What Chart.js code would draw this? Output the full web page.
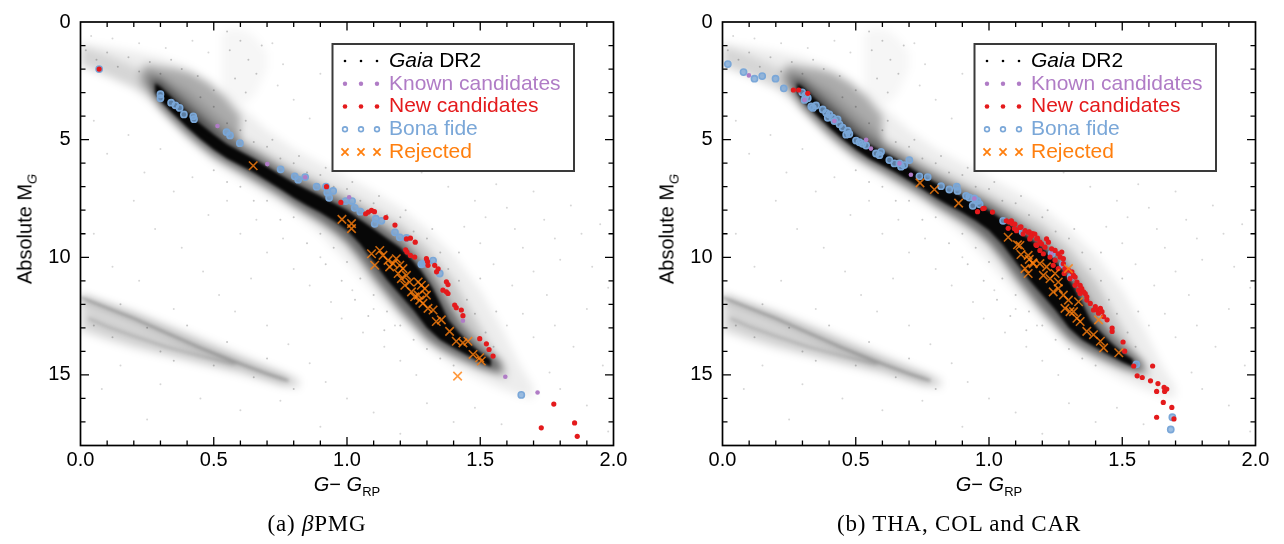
<!DOCTYPE html>
<html>
<head>
<meta charset="utf-8">
<script src="https://cdn.jsdelivr.net/npm/chart.js@4.4.1/dist/chart.umd.min.js"></script>
<style>
  html, body { margin: 0; padding: 0; background: #fff; }
  body { width: 1284px; height: 544px; position: relative; overflow: hidden; font-family: "Liberation Sans", Arial, sans-serif; color: #000; }
  .panel { position: absolute; top: 0; width: 642px; height: 544px; }
  .panel canvas { position: absolute; left: 0; top: 0; width: 642px; height: 544px; }
  .halo { filter: blur(4px); clip-path: inset(12px 28.5px 98.5px 80.5px); }
  .core { filter: blur(1.5px); clip-path: inset(12px 28.5px 98.5px 80.5px); }
  .ytitle { position: absolute; left: 25px; top: 229px; transform: translate(-50%, -50%) rotate(-90deg); font-size: 20px; white-space: nowrap; }
  .xtitle { position: absolute; left: 347px; top: 484px; transform: translate(-50%, -50%); font-size: 20px; white-space: nowrap; }
  .caption { position: absolute; left: 317px; top: 524px; transform: translate(-50%, -50%); font-family: "Liberation Serif", "DejaVu Serif", serif; font-size: 23px; letter-spacing: 0.8px; white-space: nowrap; }
  sub { font-size: 13px; vertical-align: -5px; line-height: 0; }
</style>
</head>
<body>
<div class="panel" style="left:0px">
  <canvas id="haloA" class="halo" width="642" height="544"></canvas>
  <canvas id="coreA" class="core" width="642" height="544"></canvas>
  <canvas id="mainA" width="642" height="544"></canvas>
  <div class="ytitle">Absolute M<sub><i>G</i></sub></div>
  <div class="xtitle"><i>G</i>− <i>G</i><sub>RP</sub></div>
  <div class="caption">(a) <i>β</i>PMG</div>
</div>
<div class="panel" style="left:642px">
  <canvas id="haloB" class="halo" width="642" height="544"></canvas>
  <canvas id="coreB" class="core" width="642" height="544"></canvas>
  <canvas id="mainB" width="642" height="544"></canvas>
  <div class="ytitle">Absolute M<sub><i>G</i></sub></div>
  <div class="xtitle"><i>G</i>− <i>G</i><sub>RP</sub></div>
  <div class="caption">(b) THA, COL and CAR</div>
</div>
<script>
// axis ticks
var xTicks = [0, 0.5, 1.0, 1.5, 2.0];
var yTicks = [0, 5, 10, 15];

var seriesNames = ['Gaia DR2', 'Known candidates', 'New candidates', 'Bona fide', 'Rejected'];

// Gaia DR2 field: density outlines as [G-G_RP, M_G]
var msCoreTop = [[0.28,2.6],[0.30,2.75],[0.35,3.28],[0.40,3.83],[0.45,4.33],[0.50,4.78],[0.55,5.2],[0.60,5.5],[0.65,5.8],[0.70,6.15],[0.75,6.5],[0.80,6.83],[0.85,7.12],[0.90,7.4],[0.95,7.7],[1.00,8.0],[1.05,8.4],[1.10,8.8],[1.15,9.2],[1.20,9.6],[1.24,10.05],[1.28,10.6],[1.32,11.3],[1.35,11.95],[1.38,12.65],[1.42,13.2],[1.46,13.65],[1.50,14.05],[1.54,14.35]];
var msCoreBottom = [[0.28,3.0],[0.30,3.35],[0.35,3.92],[0.40,4.47],[0.45,4.97],[0.50,5.42],[0.55,5.8],[0.60,6.1],[0.65,6.4],[0.70,6.75],[0.75,7.1],[0.80,7.47],[0.85,7.8],[0.90,8.1],[0.95,8.45],[1.00,8.85],[1.05,9.45],[1.10,10.2],[1.15,10.95],[1.20,11.6],[1.25,12.25],[1.30,13.0],[1.35,13.5],[1.40,13.85],[1.45,14.15],[1.50,14.45],[1.54,14.65]];
var msMidTop = [[0.27,2.4],[0.30,2.5],[0.35,3.0],[0.40,3.5],[0.45,4.0],[0.50,4.5],[0.55,4.95],[0.60,5.25],[0.65,5.55],[0.70,5.9],[0.75,6.25],[0.80,6.55],[0.85,6.85],[0.90,7.12],[0.95,7.4],[1.00,7.7],[1.05,8.05],[1.10,8.45],[1.15,8.85],[1.20,9.25],[1.25,9.8],[1.30,10.5],[1.34,11.2],[1.38,12.0],[1.42,12.75],[1.46,13.3],[1.50,13.75],[1.55,14.2],[1.58,14.5]];
var msMidBottom = [[0.27,3.0],[0.30,3.6],[0.35,4.2],[0.40,4.75],[0.45,5.25],[0.50,5.7],[0.55,6.05],[0.60,6.35],[0.65,6.7],[0.70,7.05],[0.75,7.4],[0.80,7.8],[0.85,8.15],[0.90,8.5],[0.95,8.9],[1.00,9.4],[1.05,10.1],[1.10,10.9],[1.15,11.6],[1.20,12.3],[1.25,12.9],[1.30,13.5],[1.35,13.9],[1.40,14.2],[1.45,14.45],[1.50,14.7],[1.55,14.85],[1.58,14.9]];
var msNearTop = [[0.22,1.9],[0.30,2.3],[0.40,2.9],[0.50,3.9],[0.60,4.9],[0.70,5.55],[0.80,6.2],[0.90,6.75],[1.00,7.3],[1.10,7.95],[1.20,8.6],[1.30,9.6],[1.40,11.0],[1.48,12.6],[1.55,14.0],[1.60,14.8]];
var msNearBottom = [[0.22,2.6],[0.30,3.7],[0.40,4.8],[0.50,5.7],[0.60,6.35],[0.70,7.0],[0.80,7.7],[0.90,8.4],[1.00,9.3],[1.10,10.6],[1.20,12.0],[1.30,13.3],[1.40,14.05],[1.48,14.6],[1.55,14.95],[1.60,15.2]];
var msWideTop = [[0.00,0.9],[0.10,1.05],[0.20,1.25],[0.30,1.5],[0.40,1.9],[0.50,2.6],[0.60,3.6],[0.70,4.6],[0.80,5.4],[0.90,6.0],[1.00,6.6],[1.10,7.2],[1.20,7.9],[1.30,8.8],[1.40,9.9],[1.50,11.4],[1.58,13.0],[1.65,14.6],[1.70,15.5]];
var msWideBottom = [[0.00,1.9],[0.10,2.3],[0.20,2.8],[0.30,3.8],[0.40,5.0],[0.50,6.0],[0.60,6.7],[0.70,7.4],[0.80,8.1],[0.90,9.0],[1.00,10.2],[1.10,11.5],[1.20,12.7],[1.30,13.8],[1.40,14.6],[1.50,15.2],[1.58,15.6],[1.65,15.9],[1.70,16.0]];
var upperMsTop = [[0.00,1.0],[0.10,1.4],[0.20,1.9],[0.30,2.5]];
var upperMsBottom = [[0.00,1.8],[0.10,2.3],[0.20,2.8],[0.30,3.4]];
var turnoffTop = [[0.24,1.8],[0.30,1.9],[0.36,2.0],[0.42,2.2],[0.48,2.6],[0.54,3.2],[0.60,4.0]];
var turnoffBottom = [[0.24,2.6],[0.30,3.2],[0.36,3.8],[0.42,4.3],[0.48,4.7],[0.54,5.0],[0.60,5.4]];
var giantsTop = [[0.53,0.5],[0.57,0.25],[0.62,0.35],[0.66,0.7],[0.70,1.3]];
var giantsBottom = [[0.53,3.2],[0.57,3.4],[0.62,3.5],[0.66,3.0],[0.70,2.0]];
var wdTop = [[0.00,11.6],[0.20,12.3],[0.40,13.2],[0.60,14.15],[0.75,14.85],[0.82,15.2]];
var wdBottom = [[0.00,13.1],[0.10,13.5],[0.20,13.85],[0.40,14.4],[0.60,14.95],[0.75,15.45],[0.82,15.55]];
var wdUpper = [[0.00,11.7],[0.10,12.15],[0.20,12.6],[0.32,13.2],[0.45,13.85],[0.57,14.4],[0.70,14.95],[0.78,15.25]];
var wdLower = [[0.03,12.6],[0.10,12.95],[0.20,13.35],[0.32,13.8],[0.45,14.2],[0.58,14.55]];
var gaiaField = [[0.04,0.6],[0.12,0.7],[0.22,0.9],[0.32,1.1],[0.42,0.8],[0.48,1.3],[0.72,0.9],[0.76,1.8],[0.74,2.7],[0.80,3.3],[0.86,4.1],[0.90,2.2],[0.95,3.0],[1.00,4.6],[1.05,3.6],[1.08,5.2],[1.15,4.4],[1.18,5.8],[1.25,5.0],[1.28,6.4],[1.35,5.7],[1.38,7.0],[1.45,6.2],[1.48,7.6],[1.52,8.3],[1.56,6.9],[1.60,7.9],[1.63,8.8],[1.66,9.6],[1.70,7.2],[1.74,8.4],[1.78,9.2],[1.80,10.1],[1.84,7.8],[1.88,9.0],[1.92,10.4],[1.95,8.6],[1.98,11.3],[1.70,10.6],[1.75,11.6],[1.62,11.2],[1.55,10.3],[1.50,9.4],[1.44,8.7],[1.66,12.4],[1.78,12.9],[1.90,12.2],[1.85,13.8],[1.70,13.4],[1.60,12.9],[1.96,14.6],[1.76,14.9],[0.05,4.2],[0.10,5.6],[0.18,4.8],[0.24,6.4],[0.30,5.4],[0.35,7.2],[0.42,6.6],[0.48,8.2],[0.55,7.6],[0.60,9.0],[0.66,8.4],[0.70,9.8],[0.76,9.2],[0.80,10.5],[0.86,11.2],[0.90,10.0],[0.94,11.9],[0.98,12.6],[1.02,11.4],[1.06,13.2],[1.10,12.2],[1.14,13.8],[1.18,12.9],[1.20,14.4],[1.26,15.0],[0.20,7.6],[0.28,8.8],[0.38,9.6],[0.46,10.6],[0.52,11.6],[0.58,12.3],[0.64,10.9],[0.70,12.9],[0.78,13.7],[0.86,14.5],[0.92,15.3],[1.00,16.0],[1.10,16.6],[1.30,16.2],[1.40,17.0],[0.05,9.0],[0.12,10.4],[0.15,14.6],[0.30,15.4],[0.45,16.0],[0.60,16.5],[0.75,16.1],[0.90,17.2],[0.25,16.9],[1.20,17.5],[0.35,12.2],[0.22,11.0],[0.08,15.6],[1.48,16.4],[1.58,17.1],[1.90,16.3],[1.80,15.6],[1.98,17.4]];
var gaiaNear = [[0.45,3.2],[0.50,3.6],[0.55,4.3],[0.60,4.6],[0.65,5.1],[0.70,5.3],[0.75,5.8],[0.80,6.0],[0.85,6.4],[0.90,6.5],[0.95,7.0],[1.00,7.1],[1.05,7.6],[1.10,7.7],[1.15,8.2],[1.20,8.3],[1.25,8.9],[1.30,9.2],[1.35,9.8],[1.38,10.5],[1.42,11.0],[1.45,11.8],[1.48,12.4],[1.52,13.2],[1.55,13.8],[0.62,4.2],[0.72,5.0],[0.82,5.7],[0.92,6.2],[1.02,6.8],[1.12,7.4],[1.22,8.0],[1.32,8.8],[1.42,9.8],[1.50,10.9],[1.56,12.3],[0.50,6.3],[0.60,7.0],[0.70,7.6],[0.80,8.3],[0.90,9.0],[0.95,9.6],[1.00,10.2],[1.05,10.9],[1.10,11.6],[1.15,12.3],[1.20,12.9],[1.25,13.5],[1.30,13.9],[1.35,14.3],[1.40,14.6],[0.85,9.4],[0.92,10.3],[0.98,11.0],[1.03,11.8],[1.08,12.5],[1.14,13.1],[0.75,8.4],[0.65,7.6],[0.55,6.8],[0.02,1.2],[0.06,1.6],[0.10,1.3],[0.14,1.9],[0.18,1.5],[0.22,2.1],[0.26,1.7],[0.30,2.2],[0.34,1.6],[0.38,2.0],[0.44,2.3],[0.50,2.9],[0.56,1.2],[0.60,0.8],[0.63,1.6],[0.58,2.4],[0.66,2.2],[0.62,3.0],[0.68,1.0],[0.55,0.4],[0.05,12.9],[0.12,13.4],[0.25,13.0],[0.30,14.0],[0.40,12.9],[0.50,14.6],[0.55,13.6],[0.65,15.1],[0.70,14.3],[0.80,15.6],[0.15,12.0],[0.35,14.4]];

// (a) beta Pic moving group
var aKnown = [[0.514,4.42],[0.701,6.04],[0.843,6.6],[1.008,7.45],[1.435,12.7],[1.594,15.08],[1.715,15.75]];
var aNew = [[0.07,2.0],[0.923,7.0],[0.977,7.67],[1.07,8.15],[1.08,8.08],[1.092,8.01],[1.103,8.06],[1.146,8.31],[1.18,8.63],[1.223,9.22],[1.238,9.19],[1.256,9.36],[1.22,9.68],[1.225,9.78],[1.238,9.92],[1.254,9.99],[1.298,10.06],[1.302,10.18],[1.304,10.34],[1.329,10.34],[1.342,10.49],[1.336,10.62],[1.373,11.04],[1.379,11.16],[1.373,11.47],[1.379,11.54],[1.36,11.4],[1.404,12.03],[1.41,12.14],[1.429,12.24],[1.435,12.48],[1.498,13.46],[1.523,13.68],[1.533,13.92],[1.548,14.2],[1.776,16.24],[1.729,17.25],[1.854,17.04],[1.864,17.61]];
var aBona = [[0.07,2.0],[0.30,3.07],[0.30,3.24],[0.34,3.43],[0.356,3.54],[0.372,3.65],[0.388,3.93],[0.423,4.01],[0.426,4.13],[0.548,4.68],[0.561,4.82],[0.598,5.15],[0.751,6.26],[0.804,6.56],[0.817,6.7],[0.843,6.59],[0.886,7.0],[0.921,7.0],[0.926,7.25],[0.948,7.18],[0.933,7.47],[0.995,7.61],[1.019,7.61],[1.029,7.9],[1.05,8.06],[1.108,8.36],[1.104,8.58],[1.129,8.45],[1.18,8.94],[1.198,9.15],[1.223,9.18],[1.286,10.27],[1.279,10.3],[1.323,10.14],[1.348,10.69],[1.654,15.85]];
var aRejected = [[0.648,6.11],[0.981,8.39],[1.017,8.57],[1.017,8.78],[1.092,9.85],[1.123,9.71],[1.135,9.92],[1.104,10.34],[1.154,10.13],[1.16,10.41],[1.173,10.27],[1.185,10.06],[1.198,10.34],[1.21,10.48],[1.192,10.69],[1.204,10.91],[1.223,10.77],[1.235,11.05],[1.217,11.19],[1.242,11.47],[1.254,11.68],[1.267,11.61],[1.273,11.82],[1.285,11.96],[1.298,11.61],[1.279,11.19],[1.267,11.05],[1.292,11.33],[1.304,12.17],[1.323,12.24],[1.335,12.73],[1.354,12.66],[1.385,13.15],[1.41,13.57],[1.435,13.64],[1.454,13.57],[1.473,14.13],[1.498,14.27],[1.504,14.41],[1.415,15.05]];

// (b) TW Hya, Columba and Carina
var bKnown = [[0.099,2.27],[0.308,3.31],[0.42,4.21],[0.539,5.01],[0.557,5.38],[0.664,6.01],[0.707,6.49],[0.945,7.5],[1.235,9.85],[1.277,10.31],[1.307,10.84]];
var bNew = [[0.266,2.89],[0.286,2.89],[0.32,3.03],[0.957,8.06],[0.977,7.93],[0.982,7.92],[1.013,8.08],[1.065,8.45],[1.076,8.5],[1.084,8.45],[1.088,8.57],[1.095,8.78],[1.097,8.59],[1.072,8.77],[1.103,8.87],[1.116,8.73],[1.12,8.71],[1.128,9.01],[1.135,8.87],[1.147,8.94],[1.151,8.92],[1.153,9.22],[1.157,9.12],[1.16,9.08],[1.164,8.99],[1.172,9.01],[1.176,9.47],[1.179,9.22],[1.179,9.5],[1.182,9.19],[1.191,9.36],[1.191,9.71],[1.197,9.43],[1.204,9.85],[1.21,9.57],[1.216,9.22],[1.223,9.36],[1.229,9.99],[1.235,9.64],[1.241,10.34],[1.248,9.71],[1.248,10.13],[1.26,9.85],[1.26,10.48],[1.267,9.99],[1.273,9.78],[1.279,10.06],[1.279,10.27],[1.282,10.69],[1.285,10.48],[1.298,10.55],[1.304,10.91],[1.311,10.62],[1.317,10.77],[1.323,10.84],[1.323,11.19],[1.33,11.05],[1.336,11.4],[1.342,11.19],[1.342,11.54],[1.348,11.33],[1.355,11.47],[1.361,11.54],[1.367,11.68],[1.367,11.82],[1.38,11.96],[1.392,12.24],[1.399,12.1],[1.405,12.24],[1.411,12.38],[1.418,12.17],[1.424,12.31],[1.43,12.52],[1.443,12.66],[1.462,13.01],[1.462,13.15],[1.503,13.6],[1.509,13.99],[1.543,14.62],[1.556,15.04],[1.575,15.11],[1.606,15.25],[1.614,14.62],[1.629,15.7],[1.634,15.37],[1.657,15.53],[1.659,15.7],[1.667,15.6],[1.654,16.17],[1.686,16.38],[1.629,16.8],[1.694,16.87]];
var bBona = [[0.02,1.79],[0.079,2.13],[0.12,2.41],[0.149,2.3],[0.199,2.41],[0.23,2.82],[0.299,2.99],[0.311,3.13],[0.32,3.24],[0.308,3.31],[0.333,3.59],[0.351,3.55],[0.339,3.65],[0.376,3.72],[0.389,3.86],[0.401,3.93],[0.413,4.07],[0.395,4.07],[0.42,4.21],[0.432,4.14],[0.439,4.35],[0.451,4.49],[0.47,4.62],[0.476,4.76],[0.464,4.79],[0.501,5.04],[0.514,5.11],[0.526,5.18],[0.539,5.25],[0.576,5.59],[0.595,5.52],[0.589,5.66],[0.626,5.87],[0.645,6.01],[0.664,6.01],[0.682,6.08],[0.701,5.87],[0.67,6.15],[0.739,6.56],[0.77,6.59],[0.82,6.98],[0.851,7.12],[0.879,7.0],[0.882,7.18],[0.914,7.39],[0.926,7.46],[0.945,7.5],[0.957,7.6],[0.939,7.81],[0.965,7.75],[1.053,8.45],[1.126,8.91],[1.235,9.85],[1.277,10.31],[1.307,10.84],[1.553,14.55],[1.688,16.8],[1.682,17.32]];
var bRejected = [[0.741,6.84],[0.795,7.12],[0.886,7.7],[1.072,9.15],[1.107,9.47],[1.116,9.5],[1.12,9.88],[1.147,9.92],[1.164,10.23],[1.151,10.09],[1.166,10.27],[1.135,10.48],[1.147,10.69],[1.191,10.27],[1.216,10.41],[1.204,10.77],[1.229,10.91],[1.248,10.69],[1.26,11.05],[1.241,11.47],[1.26,11.33],[1.279,11.61],[1.298,11.82],[1.285,12.17],[1.304,12.31],[1.317,12.31],[1.33,12.59],[1.342,12.73],[1.298,10.48],[1.336,11.89],[1.367,13.15],[1.392,13.29],[1.411,12.66],[1.43,13.85],[1.418,13.57],[1.487,14.06]];

Chart.defaults.font.family = '"Liberation Sans", Arial, sans-serif';

var FONT = '"Liberation Sans", Arial, sans-serif';
var colors = { gaia: '#000000', known: '#b07cc6', fresh: '#e41a1c', bona: '#7aa7d8', rejected: '#ff7f0e' };

function pts(list) {
  return list.map(function (p) { return { x: p[0], y: p[1] }; });
}

// a filled region between an upper and a lower edge
function band(top, bottom, color) {
  return [
    { data: pts(top), showLine: true, fill: '+1', backgroundColor: color, borderColor: 'rgba(0,0,0,0)', borderWidth: 0, pointRadius: 0 },
    { data: pts(bottom), showLine: true, fill: false, borderColor: 'rgba(0,0,0,0)', borderWidth: 0, pointRadius: 0 }
  ];
}

function strand(list, color, width) {
  return { data: pts(list), showLine: true, fill: false, borderColor: color, borderWidth: width, pointRadius: 0 };
}

function options(textColor) {
  return {
    responsive: false,
    animation: false,
    devicePixelRatio: 1,
    events: [],
    layout: { padding: { top: 12, right: 28.5, bottom: 0, left: 0 } },
    plugins: { legend: { display: false }, tooltip: { enabled: false } },
    scales: {
      x: {
        type: 'linear', min: 0, max: 2,
        grid: { display: false, drawTicks: false },
        border: { display: false },
        afterBuildTicks: function (s) { s.ticks = xTicks.map(function (v) { return { value: v }; }); },
        afterFit: function (s) { s.height = 98.5; },
        ticks: {
          color: textColor, padding: 3, maxRotation: 0, autoSkip: false,
          font: { family: FONT, size: 20 },
          callback: function (v) { return Number(v).toFixed(1); }
        }
      },
      y: {
        type: 'linear', min: 0, max: 18, reverse: true,
        grid: { display: false, drawTicks: false },
        border: { display: false },
        afterBuildTicks: function (s) { s.ticks = yTicks.map(function (v) { return { value: v }; }); },
        afterFit: function (s) { s.width = 80.5; },
        ticks: {
          color: textColor, padding: 10, autoSkip: false,
          font: { family: FONT, size: 20 },
          callback: function (v) { return String(v); }
        }
      }
    }
  };
}

// box with inward ticks on all four sides
var frame = {
  id: 'frame',
  afterDraw: function (chart) {
    var ctx = chart.ctx, a = chart.chartArea, sx = chart.scales.x, sy = chart.scales.y;
    ctx.save();
    ctx.strokeStyle = '#000';
    ctx.lineWidth = 1.3;
    ctx.beginPath();
    for (var i = 1; i < 20; i++) {
      var px = sx.getPixelForValue(i / 10);
      var lx = i % 5 === 0 ? 8.5 : 5;
      ctx.moveTo(px, a.bottom); ctx.lineTo(px, a.bottom - lx);
      ctx.moveTo(px, a.top); ctx.lineTo(px, a.top + lx);
    }
    for (var j = 1; j < 18; j++) {
      var py = sy.getPixelForValue(j);
      var ly = j % 5 === 0 ? 8.5 : 5;
      ctx.moveTo(a.left, py); ctx.lineTo(a.left + ly, py);
      ctx.moveTo(a.right, py); ctx.lineTo(a.right - ly, py);
    }
    ctx.stroke();
    ctx.lineWidth = 1.7;
    ctx.strokeRect(a.left, a.top, a.right - a.left, a.bottom - a.top);
    ctx.restore();
  }
};

var legendMarks = [
  { style: 'circle', radius: 1.3, fill: colors.gaia, stroke: colors.gaia, width: 0, text: colors.gaia },
  { style: 'circle', radius: 2.2, fill: colors.known, stroke: colors.known, width: 0, text: colors.known },
  { style: 'circle', radius: 2.3, fill: colors.fresh, stroke: colors.fresh, width: 0, text: colors.fresh },
  { style: 'circle', radius: 2.4, fill: '#fff', stroke: colors.bona, width: 1.6, text: colors.bona },
  { style: 'crossRot', radius: 5, fill: colors.rejected, stroke: colors.rejected, width: 1.8, text: colors.rejected }
];

var legendBox = {
  id: 'legendBox',
  afterDatasetsDraw: function (chart) {
    var ctx = chart.ctx, a = chart.chartArea;
    var x0 = a.left + 252, y0 = a.top + 22;
    ctx.save();
    ctx.fillStyle = '#fff';
    ctx.fillRect(x0, y0, 241.5, 127);
    ctx.strokeStyle = '#3a3a3a';
    ctx.lineWidth = 2;
    ctx.strokeRect(x0, y0, 241.5, 127);
    ctx.textBaseline = 'middle';
    ctx.textAlign = 'left';
    seriesNames.forEach(function (name, i) {
      var m = legendMarks[i];
      var cy = y0 + 17 + i * 22.75;
      [12.5, 28.5, 44.5].forEach(function (dx) {
        ctx.fillStyle = m.fill;
        ctx.strokeStyle = m.stroke;
        ctx.lineWidth = m.width;
        Chart.helpers.drawPoint(ctx, { pointStyle: m.style, radius: m.radius, borderWidth: m.width, rotation: 0 }, x0 + dx, cy);
      });
      ctx.fillStyle = m.text;
      var tx = x0 + 56.5;
      if (i === 0) {
        var parts = name.split(' ');
        ctx.font = 'italic 21px ' + FONT;
        ctx.fillText(parts[0], tx, cy);
        tx += ctx.measureText(parts[0] + ' ').width;
        ctx.font = '21px ' + FONT;
        ctx.fillText(parts[1], tx, cy);
      } else {
        ctx.font = '21px ' + FONT;
        ctx.fillText(name, tx, cy);
      }
    });
    ctx.restore();
  }
};

function background() {
  return [].concat(
    band(msMidTop, msMidBottom, 'rgba(0,0,0,0.5)'),
    band(msWideTop, msWideBottom, 'rgba(0,0,0,0.07)'),
    band(msNearTop, msNearBottom, 'rgba(0,0,0,0.16)'),
    band(upperMsTop, upperMsBottom, 'rgba(0,0,0,0.1)'),
    band(turnoffTop, turnoffBottom, 'rgba(0,0,0,0.28)'),
    band(giantsTop, giantsBottom, 'rgba(0,0,0,0.035)'),
    band(wdTop, wdBottom, 'rgba(0,0,0,0.15)'),
    [strand(wdUpper, 'rgba(0,0,0,0.25)', 5), strand(wdLower, 'rgba(0,0,0,0.15)', 5)]
  );
}

function core() {
  return [].concat(
    band(msCoreTop, msCoreBottom, 'rgba(0,0,0,0.93)'),
    [strand(wdUpper, 'rgba(0,0,0,0.2)', 2.5), strand(wdLower, 'rgba(0,0,0,0.1)', 2.5)]
  );
}

function foreground(known, fresh, bona, rejected) {
  // first dataset ends up on top
  return [
    { label: 'Rejected', data: pts(rejected), pointStyle: 'crossRot', pointRadius: 6, borderWidth: 1.6, pointBorderColor: 'rgba(255,127,14,0.8)', pointBackgroundColor: 'rgba(0,0,0,0)' },
    { label: 'New candidates', data: pts(fresh), pointStyle: 'circle', pointRadius: 2.6, pointBorderWidth: 0, pointBackgroundColor: colors.fresh },
    { label: 'Known candidates', data: pts(known), pointStyle: 'circle', pointRadius: 2.3, pointBorderWidth: 0, pointBackgroundColor: colors.known },
    { label: 'Bona fide', data: pts(bona), pointStyle: 'circle', pointRadius: 3.1, pointBorderWidth: 1.6, pointBorderColor: colors.bona, pointBackgroundColor: 'rgba(122,167,216,0.75)' },
    { label: 'Gaia DR2', data: pts(gaiaNear), pointStyle: 'circle', pointRadius: 1, pointBorderWidth: 0, pointBackgroundColor: 'rgba(0,0,0,0.22)' },
    { label: 'Gaia DR2', data: pts(gaiaField), pointStyle: 'circle', pointRadius: 1, pointBorderWidth: 0, pointBackgroundColor: 'rgba(0,0,0,0.16)' }
  ];
}

function draw(id, datasets, withText, plugins) {
  return new Chart(document.getElementById(id), {
    type: 'scatter',
    data: { datasets: datasets },
    options: options(withText ? '#000' : 'rgba(0,0,0,0)'),
    plugins: plugins || []
  });
}

draw('haloA', background(), false);
draw('coreA', core(), false);
draw('mainA', foreground(aKnown, aNew, aBona, aRejected), true, [frame, legendBox]);
draw('haloB', background(), false);
draw('coreB', core(), false);
draw('mainB', foreground(bKnown, bNew, bBona, bRejected), true, [frame, legendBox]);
</script>
</body>
</html>
